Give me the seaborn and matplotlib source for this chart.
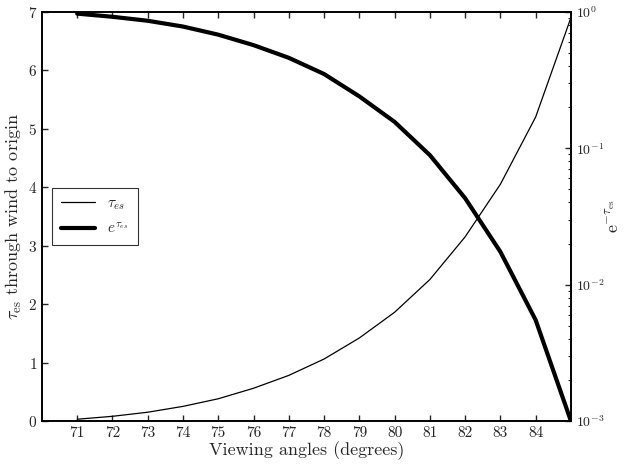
import matplotlib
matplotlib.use("Agg")
import matplotlib.pyplot as plt
import seaborn as sns
import pandas as pd

# Values
angles = [71, 72, 73, 74, 75, 76, 77, 78, 79, 80, 81, 82, 83, 84, 85]
tau_es = [0.03, 0.08, 0.15, 0.25, 0.38, 0.56, 0.78, 1.06, 1.42, 1.86, 2.42, 3.15, 4.05, 5.2, 6.9]
exp_tau = [0.97, 0.92, 0.86, 0.78, 0.68, 0.57, 0.46, 0.35, 0.24, 0.156, 0.089, 0.043, 0.0174, 0.0055, 0.001]
x_ticks = list(range(71, 85))

df = pd.DataFrame({"angle": angles, "tau": tau_es, "etau": exp_tau})

sns.set_style("ticks")
plt.rcParams["font.family"] = ["cmr10", "DejaVu Serif"]
plt.rcParams["mathtext.fontset"] = "cm"
plt.rcParams["axes.formatter.use_mathtext"] = True
plt.rcParams["xtick.direction"] = "in"
plt.rcParams["ytick.direction"] = "in"

fig = plt.figure(figsize=(6.26, 4.66), dpi=100)
ax = fig.add_axes([0.067, 0.0966, 0.845, 0.878])
ax2 = ax.twinx()

sns.lineplot(data=df, x="angle", y="tau", ax=ax, color="black", linewidth=0.9, label=r"$\tau_{es}$", legend=False)
sns.lineplot(data=df, x="angle", y="etau", ax=ax2, color="black", linewidth=3, label=r"$e^{\tau_{es}}$", legend=False)

ax.set_xlim(70, 85)
ax.set_ylim(0, 7)
ax.set_xticks(x_ticks)
ax.set_xticklabels([str(t) for t in x_ticks])
ax.set_yticks(range(0, 8))
ax.tick_params(axis="both", labelsize=11, top=True, length=4, width=1)
ax.set_xlabel("Viewing angles (degrees)", fontsize=13, labelpad=1)
ax.set_ylabel(r"$\tau_{\rm es}$ through wind to origin", fontsize=13, labelpad=3)

ax2.set_yscale("log")
ax2.set_ylim(1e-3, 1)
ax2.tick_params(axis="y", which="major", labelsize=10, length=4, width=1)
ax2.tick_params(axis="y", which="minor", length=2, width=0.8)
ax2.set_ylabel(r"e$^{-\tau_{\rm es}}$", fontsize=13, labelpad=1)

for a in (ax, ax2):
    for s in a.spines.values():
        s.set_linewidth(1.2)
        s.set_color("black")

h1, l1 = ax.get_legend_handles_labels()
h2, l2 = ax2.get_legend_handles_labels()
leg = ax.legend(h1 + h2, l1 + l2, loc="center left", bbox_to_anchor=(0.005, 0.5),
                fontsize=11, frameon=True, fancybox=False, handlelength=2.2,
                borderpad=0.6, labelspacing=0.6)
leg.get_frame().set_edgecolor("black")
leg.get_frame().set_linewidth(0.8)

fig.savefig("out.png", dpi=100)
